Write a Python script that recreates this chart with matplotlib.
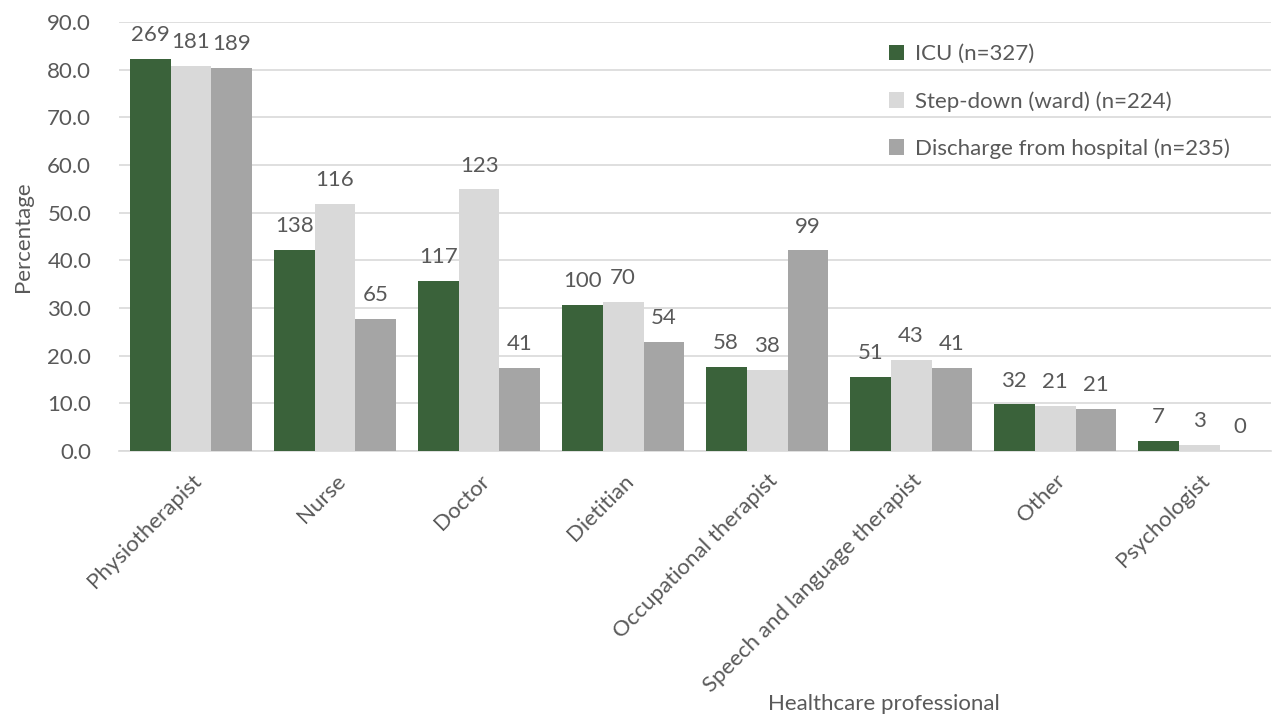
#!/usr/bin/env python3

import numpy as np
from matplotlib import pyplot as plt

# * Data

CATEGORIES = ["Physiotherapist", "Nurse", "Doctor", "Dietitian",
              "Occupational therapist", "Speech and language therapist",
              "Other", "Psychologist"]
SERIES = ["ICU (n=327)", "Step-down (ward) (n=224)", "Discharge from hospital (n=235)"]

# Percentages (bar heights)
ICU_PCT = [82.3, 42.2, 35.8, 30.6, 17.7, 15.6, 9.8, 2.1]
STEP_PCT = [80.8, 51.8, 54.9, 31.3, 17.0, 19.2, 9.4, 1.3]
DISCH_PCT = [80.4, 27.7, 17.4, 23.0, 42.1, 17.4, 8.9, 0.0]

# Counts (data labels)
ICU_N = [269, 138, 117, 100, 58, 51, 32, 7]
STEP_N = [181, 116, 123, 70, 38, 43, 21, 3]
DISCH_N = [189, 65, 41, 54, 99, 41, 21, 0]

# * Style

COLORS = ["#3A623A", "#D9D9D9", "#A5A5A5"]
TXT = "#595959"
GRID = "#D9D9D9"
FS = 16
BAR_W = 0.284

plt.rcParams["font.family"] = ["Lato", "DejaVu Sans"]

# * Plot

fig = plt.figure(figsize=(12.73, 7.15), dpi=100)
ax = fig.add_axes([0.0935, 0.369, 0.905, 0.6])

x = np.arange(len(CATEGORIES))
pcts = [ICU_PCT, STEP_PCT, DISCH_PCT]
counts = [ICU_N, STEP_N, DISCH_N]
for i in range(3):
    bars = ax.bar(x + (i - 1) * BAR_W, pcts[i], width=BAR_W, color=COLORS[i],
                  label=SERIES[i], zorder=3)
    ax.bar_label(bars, labels=[str(c) for c in counts[i]], padding=10,
                 fontsize=FS, color=TXT)

ax.set_xlim(-0.5, len(CATEGORIES) - 0.5)
ax.set_ylim(0, 90)
ax.set_yticks(np.arange(0, 91, 10))
ax.set_yticklabels(["{:.1f}".format(v) for v in np.arange(0, 91, 10)])
ax.grid(axis="y", color=GRID, lw=1.2, zorder=0)
for s in ["top", "right", "left"]:
    ax.spines[s].set_visible(False)
ax.spines["bottom"].set_color(GRID)
ax.spines["bottom"].set_linewidth(1.2)
ax.tick_params(axis="both", length=0, labelsize=FS, colors=TXT)
ax.tick_params(axis="y", pad=20)
ax.tick_params(axis="x", pad=14)

ax.set_xticks(x)
ax.set_xticklabels(CATEGORIES, rotation=45, ha="right", rotation_mode="anchor")

ax.set_ylabel("Percentage", fontsize=FS, color=TXT, labelpad=10)
fig.text(0.694, 0.016, "Healthcare professional", fontsize=FS, color=TXT,
         ha="center", va="center")

leg = ax.legend(loc="upper right", bbox_to_anchor=(0.982, 0.995), frameon=False,
                fontsize=FS, labelcolor=TXT, handlelength=0.7, handleheight=0.7,
                handletextpad=0.5, labelspacing=1.2)

fig.savefig("out.png", dpi=100)
